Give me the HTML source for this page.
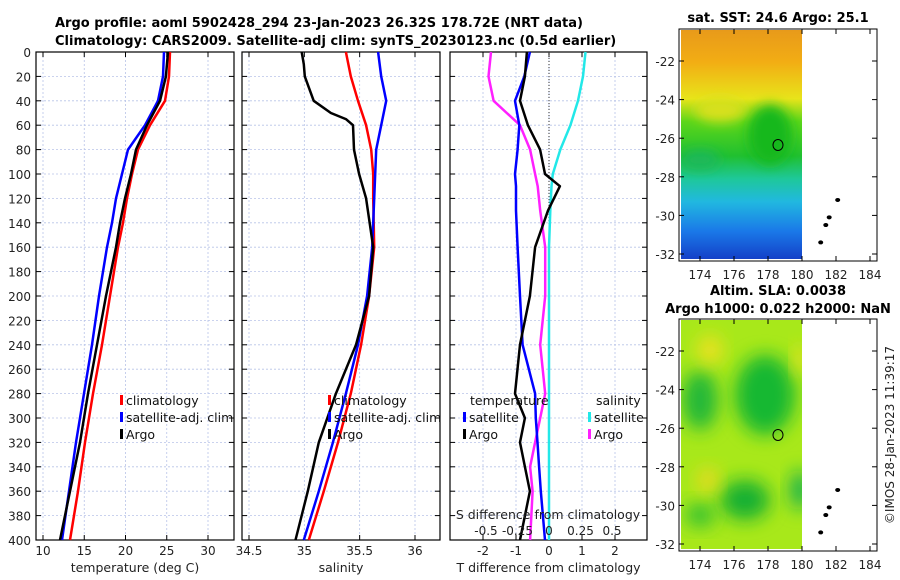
<!DOCTYPE html>
<html><head><meta charset="utf-8"><style>
body{margin:0;background:#fff}
svg{display:block;font-family:"DejaVu Sans","Liberation Sans",sans-serif}
</style></head><body>
<svg id="c" width="900" height="580" viewBox="0 0 900 580">
<defs>
<filter id="bl" x="-50%" y="-50%" width="200%" height="200%"><feGaussianBlur stdDeviation="9"/></filter>
<filter id="bl2" x="-50%" y="-50%" width="200%" height="200%"><feGaussianBlur stdDeviation="6"/></filter>
<clipPath id="m1"><rect x="681" y="30" width="121" height="229"/></clipPath>
<clipPath id="m2"><rect x="681" y="320" width="121" height="229"/></clipPath>
<linearGradient id="sst" x1="0" y1="0" x2="0" y2="1">
<stop offset="0" stop-color="#e89a1a"/><stop offset="0.14" stop-color="#f2ad14"/><stop offset="0.3" stop-color="#e8e41a"/><stop offset="0.4" stop-color="#5cd61a"/><stop offset="0.55" stop-color="#20c030"/><stop offset="0.65" stop-color="#1ec89a"/><stop offset="0.75" stop-color="#21b8e0"/><stop offset="0.88" stop-color="#1a78e8"/><stop offset="1" stop-color="#1440c8"/>
</linearGradient>
</defs>
<g font-weight="bold" font-size="13" fill="#000">
<text x="55" y="27">Argo profile: aoml 5902428_294 23-Jan-2023 26.32S 178.72E (NRT data)</text>
<text x="55" y="45">Climatology: CARS2009. Satellite-adj clim: synTS_20230123.nc (0.5d earlier)</text>
</g>
<g id="plots"></g>
<g id="maps">
<g>
<text x="778" y="22" text-anchor="middle" font-weight="bold" font-size="13">sat. SST: 24.6 Argo: 25.1</text>
<g clip-path="url(#m1)">
<rect x="681" y="30" width="121" height="229" fill="url(#sst)"/>
<ellipse cx="770" cy="135" rx="22" ry="30" fill="#12b81e" filter="url(#bl2)"/>
<ellipse cx="720" cy="110" rx="25" ry="12" fill="#d8e01a" filter="url(#bl2)"/>
<ellipse cx="700" cy="160" rx="20" ry="10" fill="#1cb85a" filter="url(#bl2)"/>
</g>
<rect x="679" y="29" width="198" height="232" fill="none" stroke="#000"/>
<ellipse cx="778" cy="145" rx="5" ry="5.5" fill="none" stroke="#000"/>
</g>
<g>
<text x="778" y="295" text-anchor="middle" font-weight="bold" font-size="13">Altim. SLA: 0.0038</text>
<text x="778" y="313" text-anchor="middle" font-weight="bold" font-size="13">Argo h1000: 0.022 h2000: NaN</text>
<g clip-path="url(#m2)">
<rect x="681" y="320" width="121" height="229" fill="#a8e81a"/>
<ellipse cx="765" cy="395" rx="30" ry="40" fill="#18b830" filter="url(#bl)"/>
<ellipse cx="700" cy="400" rx="18" ry="30" fill="#20b838" filter="url(#bl)"/>
<ellipse cx="745" cy="500" rx="25" ry="20" fill="#18b030" filter="url(#bl)"/>
<ellipse cx="800" cy="490" rx="10" ry="20" fill="#18b050" filter="url(#bl)"/>
<ellipse cx="700" cy="515" rx="15" ry="12" fill="#30c030" filter="url(#bl)"/>
<ellipse cx="710" cy="350" rx="12" ry="15" fill="#f0e020" filter="url(#bl)"/>
<ellipse cx="708" cy="480" rx="10" ry="12" fill="#f0d820" filter="url(#bl)"/>
<ellipse cx="800" cy="360" rx="6" ry="15" fill="#f0e020" filter="url(#bl)"/>
</g>
<rect x="679" y="319" width="198" height="232" fill="none" stroke="#000"/>
<ellipse cx="778" cy="435" rx="5" ry="5.5" fill="none" stroke="#000"/>
</g>
<text transform="translate(894,435) rotate(-90)" text-anchor="middle" font-size="12" fill="#222">©IMOS 28-Jan-2023 11:39:17</text>
</g>
</svg>
<script>
const depths=[0,20,40,60,80,100,120,140,160,200,240,280,320,360,400];
const tempClim=[25.39,25.27,24.79,22.97,21.51,20.79,20.18,19.7,19.09,18.12,17.15,16.06,15.09,14.24,13.27];
const tempSat=[24.67,24.54,23.94,22.36,20.3,19.57,18.85,18.36,17.76,16.79,15.94,14.97,14.0,13.15,12.3];
const tempArgo=[25.15,24.9,24.18,22.6,21.27,20.67,19.94,19.33,18.85,17.64,16.54,15.45,14.48,13.27,12.06];
const salDepths=[0,20,40,60,80,100,120,160,200,240,280,320,360,400];
const salClim=[35.376,35.42,35.485,35.558,35.604,35.622,35.622,35.631,35.585,35.513,35.42,35.304,35.176,35.04];
const salSat=[35.667,35.695,35.74,35.695,35.649,35.64,35.631,35.613,35.567,35.485,35.376,35.258,35.131,34.995];
const argoSalDepths=[0,10,20,40,50,55,60,80,100,120,160,200,240,280,320,360,400];
const salArgo=[34.976,34.995,35.004,35.085,35.24,35.376,35.44,35.449,35.495,35.558,35.622,35.585,35.467,35.285,35.131,35.031,34.92];
const diffDepths=[0,20,40,60,80,100,110,130,160,200,240,280,300,320,340,360,400];
const tDiffArgo=[-0.67,-0.73,-0.88,-0.64,-0.27,-0.12,0.33,-0.03,-0.42,-0.58,-0.88,-1.03,-0.73,-0.88,-0.73,-0.58,-0.88];
const tDiffSat=[-0.58,-0.75,-1.03,-0.9,-0.95,-1.03,-1.0,-1.0,-0.95,-0.88,-0.8,-0.42,-0.4,-0.35,-0.3,-0.25,-0.12];
const sDiffArgo=[-0.46,-0.48,-0.44,-0.23,-0.15,-0.11,-0.09,-0.07,-0.03,-0.03,-0.07,-0.03,-0.07,-0.11,-0.15,-0.13,-0.15];
const sDiffSat=[0.29,0.27,0.23,0.17,0.09,0.03,0.02,0.01,0.0,0.0,0.0,0.0,0.0,0.0,0.0,0.0,0.0];
const depthTicks=[0,20,40,60,80,100,120,140,160,180,200,220,240,260,280,300,320,340,360,380,400];
const tTicks=[10,15,20,25,30];
const sTicks=[34.5,35,35.5,36];
const tdTicks=[-2,-1,0,1,2];
const sdTicks=[-0.5,-0.25,0,0.25,0.5];
const sdTickLabels=["-0.5","-0.25","0","0.25","0.5"];
const mapLonTicks=[174,176,178,180,182,184];
const mapLatTicks=[-22,-24,-26,-28,-30,-32];
const islandLon=[182.1,181.6,181.4,181.1];
const islandLat=[-29.2,-30.1,-30.5,-31.4];

const NS='http://www.w3.org/2000/svg';
const plots=document.getElementById('plots');
const maps=document.getElementById('maps');
function mk(tag,at,par){const e=document.createElementNS(NS,tag);for(const k in at)e.setAttribute(k,at[k]);(par||plots).appendChild(e);return e;}
const Y0=52,Y1=540;
const y=d=>Y0+(Y1-Y0)*d/400;
function lin(d0,d1,p0,p1){return v=>p0+(v-d0)*(p1-p0)/(d1-d0);}
function panel(name,x0,x1,xs,ticks,labels,xlabel,showY){
  const g=mk('g',{});
  
  
  depthTicks.forEach(d=>{mk('line',{x1:x0,x2:x1,y1:y(d),y2:y(d),stroke:'#b8c4e8','stroke-width':0.8,'stroke-dasharray':'2,2'},g);
    mk('line',{x1:x0,x2:x0+5,y1:y(d),y2:y(d),stroke:'#000'},g);mk('line',{x1:x1-5,x2:x1,y1:y(d),y2:y(d),stroke:'#000'},g);
    if(showY){const t=mk('text',{x:x0-5,y:y(d)+5,'text-anchor':'end','font-size':12,fill:'#222'},g);t.textContent=d;}});
  ticks.forEach((v,i)=>{const X=xs(v);mk('line',{x1:X,x2:X,y1:Y0,y2:Y1,stroke:'#b8c4e8','stroke-width':0.8,'stroke-dasharray':'2,2'},g);
    mk('line',{x1:X,x2:X,y1:Y1,y2:Y1-5,stroke:'#000'},g);mk('line',{x1:X,x2:X,y1:Y0,y2:Y0+5,stroke:'#000'},g);
    const t=mk('text',{x:X,y:555,'text-anchor':'middle','font-size':12,fill:'#222'},g);t.textContent=labels[i];});
  const l=mk('text',{x:(x0+x1)/2,y:572,'text-anchor':'middle','font-size':12.5,fill:'#222'},g);l.textContent=xlabel;
  mk('rect',{x:x0,y:Y0,width:x1-x0,height:Y1-Y0,fill:'none',stroke:'#000','stroke-width':1.2},g);
  return g;
}
function line(g,name,ds,vs,xs,col){
  const p=mk('polyline',{points:ds.map((d,i)=>xs(vs[i]).toFixed(1)+','+y(d).toFixed(1)).join(' '),fill:'none',stroke:col,'stroke-width':2.5,'stroke-linejoin':'round'},g);
  
  
}
function legend(g,x,yy,col,label,name){
  const r=mk('rect',{x:x,y:yy-10,width:3,height:10,fill:col},g);
  const t=mk('text',{x:x+6,y:yy,'font-size':12.5,fill:'#111'},g);t.textContent=label;
  
  
}
// Temperature
const xt=lin(10,30,43,208);
const g1=panel('temperature-panel',36,234,xt,tTicks,tTicks.map(String),'temperature (deg C)',true);
line(g1,'temp-climatology-line',depths,tempClim,xt,'#ff0000');
line(g1,'temp-satellite-line',depths,tempSat,xt,'#0000ff');
line(g1,'temp-argo-line',depths,tempArgo,xt,'#000');
legend(g1,120,405,'#ff0000','climatology','legend-climatology');
legend(g1,120,422,'#0000ff','satellite-adj. clim','legend-satellite-adj');
legend(g1,120,439,'#000','Argo','legend-argo');
// Salinity
const xs=lin(34.5,36,249,415);
const g2=panel('salinity-panel',242,440,xs,sTicks,sTicks.map(String),'salinity',false);
line(g2,'sal-climatology-line',salDepths,salClim,xs,'#ff0000');
line(g2,'sal-satellite-line',salDepths,salSat,xs,'#0000ff');
line(g2,'sal-argo-line',argoSalDepths,salArgo,xs,'#000');
legend(g2,328,405,'#ff0000','climatology','legend-climatology-sal');
legend(g2,328,422,'#0000ff','satellite-adj. clim','legend-satellite-adj-sal');
legend(g2,328,439,'#000','Argo','legend-argo-sal');
// Differences
const xtd=lin(-2,2,483,615), xsd=lin(-0.5,0.5,486,612);
const g3=panel('difference-panel',450,647,xtd,tdTicks,tdTicks.map(String),'T difference from climatology',false);
mk('line',{x1:xtd(0),x2:xtd(0),y1:Y0,y2:Y1,stroke:'#333','stroke-dasharray':'1,2'},g3);
line(g3,'sdiff-satellite-line',diffDepths,sDiffSat,xsd,'#22e8e8');
line(g3,'sdiff-argo-line',diffDepths,sDiffArgo,xsd,'#ff20ff');
line(g3,'tdiff-satellite-line',diffDepths,tDiffSat,xtd,'#0000ff');
line(g3,'tdiff-argo-line',diffDepths,tDiffArgo,xtd,'#000');
let t=mk('text',{x:470,y:405,'font-size':12.5,fill:'#111'},g3);t.textContent='temperature';
t=mk('text',{x:596,y:405,'font-size':12.5,fill:'#111'},g3);t.textContent='salinity';
legend(g3,463,422,'#0000ff','satellite','legend-tdiff-satellite');
legend(g3,463,439,'#000','Argo','legend-tdiff-argo');
legend(g3,588,422,'#22e8e8','satellite','legend-sdiff-satellite');
legend(g3,588,439,'#ff20ff','Argo','legend-sdiff-argo');
t=mk('text',{x:548,y:519,'text-anchor':'middle','font-size':12.5,fill:'#222'},g3);t.textContent='S difference from climatology';
sdTicks.forEach((v,i)=>{const e=mk('text',{x:xsd(v),y:535,'text-anchor':'middle','font-size':12,fill:'#222'},g3);e.textContent=sdTickLabels[i];});
// Map axes
const lonX=lin(174,184,700,870);
function mapAxes(top,name){
  const latY=lin(-22,-32,top+32,top+225);
  const g=mk('g',{},maps);
  
  
  mapLonTicks.forEach(v=>{const X=lonX(v);mk('line',{x1:X,x2:X,y1:top+232,y2:top+227,stroke:'#000'},g);mk('line',{x1:X,x2:X,y1:top,y2:top+5,stroke:'#000'},g);
    const e=mk('text',{x:X,y:top+250,'text-anchor':'middle','font-size':12,fill:'#222'},g);e.textContent=v;});
  mapLatTicks.forEach(v=>{const Yv=latY(v);mk('line',{x1:679,x2:684,y1:Yv,y2:Yv,stroke:'#000'},g);mk('line',{x1:872,x2:877,y1:Yv,y2:Yv,stroke:'#000'},g);
    const e=mk('text',{x:675,y:Yv+5,'text-anchor':'end','font-size':12,fill:'#222'},g);e.textContent=v;});
  islandLon.forEach((v,i)=>{const c=mk('ellipse',{cx:lonX(v),cy:latY(islandLat[i]),rx:2.5,ry:2,fill:'#000'},g);
    
    });
}
mapAxes(29,'sst-map-axes');
mapAxes(319,'sla-map-axes');
</script>
</body></html>
